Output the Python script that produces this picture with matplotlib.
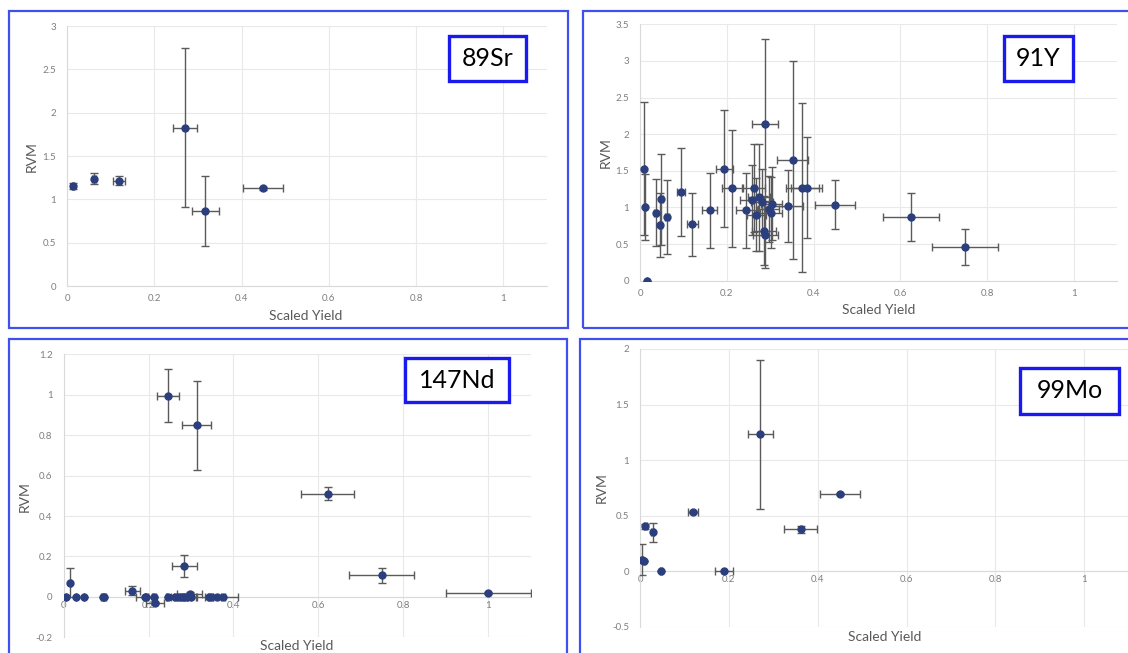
import matplotlib
matplotlib.use("Agg")
import numpy as np
from matplotlib import pyplot as plt
from matplotlib.patches import Rectangle

plt.rcParams['font.family'] = ['Lato', 'DejaVu Sans']

# ---- data ----
sr_x = [0.013, 0.062, 0.119, 0.271, 0.317, 0.448]
sr_y = [1.154, 1.238, 1.215, 1.827, 0.865, 1.127]
sr_xerr = [0.003, 0.004, 0.013, 0.0275, 0.032, 0.046]
sr_yerr = [0.04, 0.064, 0.05, 0.92, 0.40, 0.02]

y91_x = [0.010, 0.012, 0.016, 0.036, 0.047, 0.049, 0.062, 0.094, 0.120, 0.160,
         0.194, 0.212, 0.245, 0.257, 0.262, 0.268, 0.274, 0.281, 0.286, 0.289,
         0.289, 0.296, 0.302, 0.303, 0.341, 0.352, 0.374, 0.384, 0.449, 0.624, 0.749]
y91_y = [1.53, 1.01, 0.00, 0.93, 0.76, 1.11, 0.87, 1.21, 0.77, 0.96,
         1.53, 1.26, 0.96, 1.10, 1.27, 0.90, 1.14, 1.08, 0.68, 2.14,
         0.63, 0.98, 0.93, 1.05, 1.02, 1.65, 1.27, 1.27, 1.04, 0.87, 0.46]
y91_xerr = [0.002, 0.002, 0.0, 0.003, 0.003, 0.004, 0.004, 0.010, 0.013, 0.018,
            0.020, 0.023, 0.025, 0.027, 0.025, 0.022, 0.025, 0.025, 0.028, 0.030,
            0.028, 0.025, 0.025, 0.025, 0.034, 0.036, 0.038, 0.036, 0.046, 0.064, 0.076]
y91_yerr = [0.91, 0.45, 0.0, 0.46, 0.44, 0.62, 0.50, 0.60, 0.43, 0.51,
            0.80, 0.80, 0.51, 0.48, 0.60, 0.50, 0.73, 0.45, 0.47, 1.16,
            0.46, 0.45, 0.49, 0.50, 0.49, 1.35, 1.15, 0.69, 0.33, 0.33, 0.24]

nd_x = [0.005, 0.016, 0.029, 0.049, 0.092, 0.096, 0.162, 0.191, 0.195, 0.213,
        0.215, 0.246, 0.247, 0.263, 0.270, 0.276, 0.283, 0.284, 0.291, 0.297,
        0.301, 0.313, 0.342, 0.347, 0.361, 0.375, 0.622, 0.749, 1.000]
nd_y = [0.0, 0.071, 0.0, 0.0, 0.0, 0.0, 0.031, 0.0, 0.0, 0.0,
        -0.031, 0.995, 0.0, 0.0, 0.0, 0.0, 0.0, 0.152, 0.0, 0.012,
        0.0, 0.848, 0.0, 0.0, 0.0, 0.0, 0.51, 0.106, 0.021]
nd_xerr = [0.0, 0.002, 0.0, 0.0, 0.003, 0.003, 0.017, 0.02, 0.004, 0.005,
           0.022, 0.026, 0.005, 0.02, 0.01, 0.01, 0.01, 0.029, 0.01, 0.03,
           0.01, 0.033, 0.01, 0.033, 0.01, 0.035, 0.063, 0.076, 0.100]
nd_yerr = [0.0, 0.07, 0.0, 0.0, 0.0, 0.0, 0.023, 0.0, 0.0, 0.0,
           0.005, 0.13, 0.0, 0.0, 0.0, 0.0, 0.0, 0.056, 0.0, 0.01,
           0.0, 0.218, 0.0, 0.0, 0.0, 0.0, 0.033, 0.038, 0.005]

mo_x = [0.005, 0.008, 0.012, 0.028, 0.047, 0.119, 0.189, 0.271, 0.362, 0.450]
mo_y = [0.102, 0.090, 0.403, 0.349, 0.0, 0.532, 0.0, 1.233, 0.376, 0.695]
mo_xerr = [0.002, 0.002, 0.004, 0.004, 0.002, 0.012, 0.02, 0.028, 0.037, 0.046]
mo_yerr = [0.14, 0.0, 0.02, 0.084, 0.0, 0.01, 0.0, 0.67, 0.035, 0.01]

x_ticks = [0, 0.2, 0.4, 0.6, 0.8, 1]
x_labels = ['0', '0.2', '0.4', '0.6', '0.8', '1']

W, H = 1128, 653
fig = plt.figure(figsize=(W / 100, H / 100), dpi=100)

def box(l, t, r, b):
    return [l / W, 1 - b / H, (r - l) / W, (b - t) / H]

mark_col = '#2b3f7e'
err_col = '#5a5a5a'
grid_col = '#e9e9e9'
tick_col = '#7f7f7f'
lab_col = '#595959'
frame_col = '#4050f0'
tag_col = '#1a1aee'

panels = [
    # name, axes box, ylim, yticks, data, zero axis, frame, tag box, rvm pos, xlabel pos
    ('89Sr', (67.2, 26, 547, 286), (0, 3), np.arange(0, 3.01, 0.5),
     (sr_x, sr_y, sr_xerr, sr_yerr), False,
     (9, 10.7, 568, 327.7), (449, 36, 526, 81), (32, 157), (306, 316)),
    ('91Y', (640.1, 24.3, 1117.3, 280.7), (0, 3.5), np.arange(0, 3.51, 0.5),
     (y91_x, y91_y, y91_xerr, y91_yerr), False,
     (582.7, 10.7, 1140, 328), (1003.5, 36, 1072.5, 81), (605.6, 152.7), (879, 310)),
    ('147Nd', (63.6, 354.3, 530.7, 637.3), (-0.2, 1.2), np.arange(-0.2, 1.21, 0.2),
     (nd_x, nd_y, nd_xerr, nd_yerr), True,
     (9, 339.3, 567.3, 670), (404.6, 358.3, 509, 401.7), (24.7, 497), (297, 645.7)),
    ('99Mo', (640.1, 349, 1128.6, 626.7), (-0.5, 2), np.arange(-0.5, 2.01, 0.5),
     (mo_x, mo_y, mo_xerr, mo_yerr), True,
     (579.7, 338.7, 1140, 670), (1020, 368, 1119, 413.7), (601.3, 487.7), (885, 636.7)),
]

for name, abox, ylim, yticks, data, zero_axis, frame, tag, rvm_pos, xl_pos in panels:
    ax = fig.add_axes(box(*abox))
    x, y, xe, ye = data
    ax.errorbar(x, y, xerr=xe, yerr=ye, fmt='o', color=mark_col, ms=5,
                ecolor=err_col, elinewidth=1, capsize=3, capthick=1, zorder=3)
    ax.set_xlim(0, 1.1)
    ax.set_ylim(*ylim)
    ax.set_xticks(x_ticks)
    ax.set_xticklabels(x_labels)
    ax.set_yticks(yticks)
    ax.set_yticklabels(['%g' % round(v, 1) for v in yticks])
    ax.grid(True, color=grid_col, lw=0.8, zorder=0)
    ax.set_axisbelow(True)
    for s in ['top', 'right']:
        ax.spines[s].set_visible(False)
    ax.spines['left'].set_color('#d9d9d9')
    ax.spines['bottom'].set_color('#d9d9d9')
    if zero_axis:
        ax.spines['bottom'].set_position(('data', 0))
        ax.tick_params(axis='x', pad=3)
    else:
        ax.tick_params(axis='x', pad=6)
    ax.tick_params(axis='both', length=0, labelsize=7, labelcolor=tick_col)
    ax.tick_params(axis='y', pad=8)

    # outer panel frame
    fig.patches.append(Rectangle((frame[0] / W, 1 - frame[3] / H),
                                 (frame[2] - frame[0]) / W, (frame[3] - frame[1]) / H,
                                 transform=fig.transFigure, fill=False,
                                 ec=frame_col, lw=1.6, zorder=5))
    # isotope tag
    fig.patches.append(Rectangle((tag[0] / W, 1 - tag[3] / H),
                                 (tag[2] - tag[0]) / W, (tag[3] - tag[1]) / H,
                                 transform=fig.transFigure, fc='white',
                                 ec=tag_col, lw=2.4, zorder=5))
    fig.text((tag[0] + tag[2]) / 2 / W, 1 - (tag[1] + tag[3]) / 2 / H, name,
             ha='center', va='center', fontsize=18, color='black', zorder=6)

    fig.text(rvm_pos[0] / W, 1 - rvm_pos[1] / H, 'RVM', rotation=90,
             ha='center', va='center', fontsize=10, color=lab_col)
    fig.text(xl_pos[0] / W, 1 - xl_pos[1] / H, 'Scaled Yield',
             ha='center', va='center', fontsize=10, color=lab_col)

fig.savefig('out.png', dpi=100)
